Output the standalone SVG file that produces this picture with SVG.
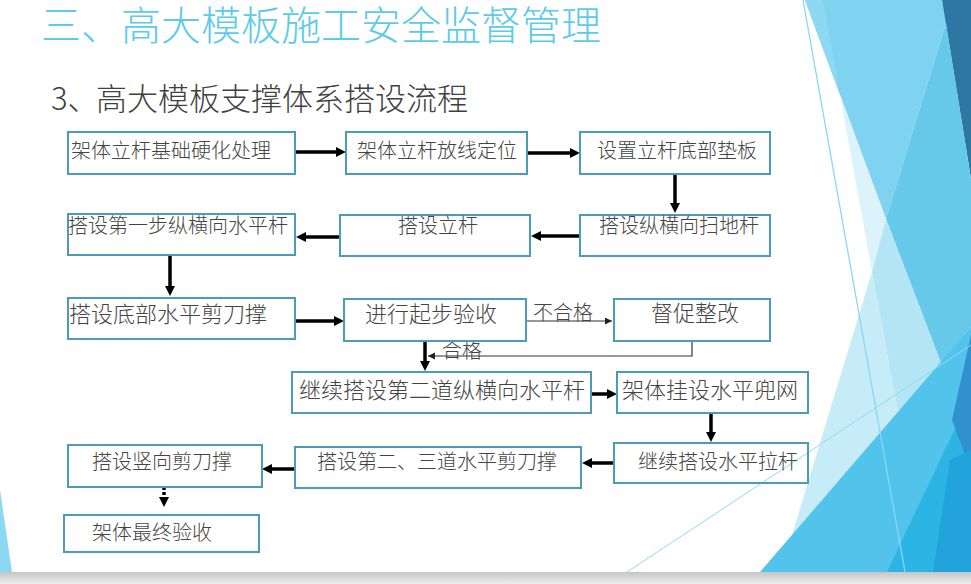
<svg xmlns="http://www.w3.org/2000/svg" width="971" height="584" viewBox="0 0 971 584">
<defs>
<marker id="ah" markerUnits="userSpaceOnUse" markerWidth="11" markerHeight="11" refX="3" refY="5" orient="auto"><path d="M0,0 L10,5 L0,10 z" fill="#000"/></marker>
<marker id="ahs" markerUnits="userSpaceOnUse" markerWidth="8" markerHeight="8" refX="7" refY="3.5" orient="auto"><path d="M0,0 L7,3.5 L0,7 z" fill="#222"/></marker>
<linearGradient id="bar" x1="0" y1="0" x2="0" y2="1"><stop offset="0" stop-color="#c6c6c6"/><stop offset="1" stop-color="#ececec"/></linearGradient>
</defs>
<style>
.box{fill:none;stroke:#4e9bb8;stroke-width:2}
.t{font-family:"Noto Sans CJK SC","Noto Sans",sans-serif;fill:#444;font-size:20px;font-weight:300}
.t22{font-size:22px}
.thick{stroke:#000;stroke-width:3.5;fill:none;marker-end:url(#ah)}
.thin{stroke:#333;stroke-width:1.2;fill:none;marker-end:url(#ahs)}
</style>
<rect width="971" height="584" fill="#fff"/>
<g id="background">
<polygon points="805,0 942,0 946,23 886,219" fill="#80d3f0"/>
<polygon points="805,0 823,0 840,95" fill="#8dd8f2"/>
<polygon points="942,0 971,0 971,179" fill="#2e77a5"/>
<polygon points="946,23 971,179 971,327 941,363 886,219" fill="#66c9ea"/>
<polygon points="840,95 886,219 872,272" fill="#ddf3fb"/>
<polygon points="872,272 898,412 792,535" fill="#c6ecf8"/>
<polygon points="886,219 941,363 898,412 872,272" fill="#b3e5f5"/>
<polygon points="971,327 760,572 971,572" fill="#52c3ea"/>
<polygon points="971,395 887,572 971,572" fill="#2cb4e5"/>
<polygon points="971,335 952,420 971,470" fill="#3190cd"/>
<polygon points="971,450 950,460 933,572 971,572" fill="#22a3db"/>
<polygon points="0,490 12,572 0,572" fill="#8cd8f2"/>
<line x1="803" y1="0" x2="905" y2="572" stroke="#8ad8f3" stroke-width="1.3"/>
<line x1="971" y1="345" x2="627" y2="572" stroke="#92d9f3" stroke-width="1"/>
<rect x="0" y="572" width="971" height="12" fill="url(#bar)"/>
</g>
<g id="titles">
<text x="41" y="40" font-family="'Noto Sans CJK SC','Noto Sans',sans-serif" font-size="40" font-weight="300" fill="#5ccbea">三、高大模板施工安全监督管理</text>
<text y="110" font-family="'Noto Sans CJK SC','Noto Sans',sans-serif" font-size="31" font-weight="300" fill="#404040"><tspan x="51">3、</tspan><tspan x="96">高大模板支撑体系搭设流程</tspan></text>
</g>
<g id="connectors">
<path class="thick" d="M295,152 H339"/>
<path class="thick" d="M528,153 H573"/>
<path class="thick" d="M675,174 V206"/>
<path class="thick" d="M580,236 H538"/>
<path class="thick" d="M340,237 H303"/>
<path class="thick" d="M170,256 V289"/>
<path class="thick" d="M295,321 H337"/>
<path class="thick" d="M425,341 V364"/>
<path class="thick" d="M591,394 H610"/>
<path class="thick" d="M711,413 V435"/>
<path class="thick" d="M614,463 H589"/>
<path class="thick" d="M295,469 H269"/>
<path class="thick" d="M164,487 V500" stroke-dasharray="3,2"/>
<path class="thin" d="M526,321 H612"/>
<path class="thin" d="M692,341 V356 H428"/>
<text class="t" x="533" y="320">不合格</text>
<text class="t" x="442" y="358">合格</text>
</g>
<g id="nA"><rect class="box" x="68" y="132" width="227" height="42"/><text class="t" x="71" y="158">架体立杆基础硬化处理</text></g>
<g id="nB"><rect class="box" x="346" y="132" width="181" height="42"/><text class="t" x="357" y="158">架体立杆放线定位</text></g>
<g id="nC"><rect class="box" x="580" y="132" width="190" height="42"/><text class="t" x="597" y="158">设置立杆底部垫板</text></g>
<g id="nD"><rect class="box" x="68" y="214" width="227" height="41"/><text class="t" x="68" y="233">搭设第一步纵横向水平杆</text></g>
<g id="nE"><rect class="box" x="340" y="215" width="190" height="41"/><text class="t" x="398" y="233">搭设立杆</text></g>
<g id="nF"><rect class="box" x="580" y="215" width="190" height="41"/><text class="t" x="599" y="233">搭设纵横向扫地杆</text></g>
<g id="nG"><rect class="box" x="68" y="298" width="227" height="41"/><text class="t t22" x="69" y="322">搭设底部水平剪刀撑</text></g>
<g id="nH"><rect class="box" x="344" y="299" width="182" height="42"/><text class="t t22" x="365" y="322">进行起步验收</text></g>
<g id="nI"><rect class="box" x="614" y="299" width="156" height="42"/><text class="t t22" x="651" y="321">督促整改</text></g>
<g id="nJ"><rect class="box" x="292" y="372" width="299" height="41"/><text class="t t22" x="299" y="398">继续搭设第二道纵横向水平杆</text></g>
<g id="nK"><rect class="box" x="617" y="372" width="191" height="41"/><text class="t t22" x="622" y="398">架体挂设水平兜网</text></g>
<g id="nL"><rect class="box" x="614" y="443" width="194" height="40"/><text class="t" x="638" y="469">继续搭设水平拉杆</text></g>
<g id="nM"><rect class="box" x="295" y="447" width="286" height="41"/><text class="t" x="317" y="469">搭设第二、三道水平剪刀撑</text></g>
<g id="nN"><rect class="box" x="68" y="445" width="194" height="42"/><text class="t" x="92" y="469">搭设竖向剪刀撑</text></g>
<g id="nO"><rect class="box" x="64" y="515" width="195" height="37"/><text class="t" x="92" y="540">架体最终验收</text></g>
</svg>
